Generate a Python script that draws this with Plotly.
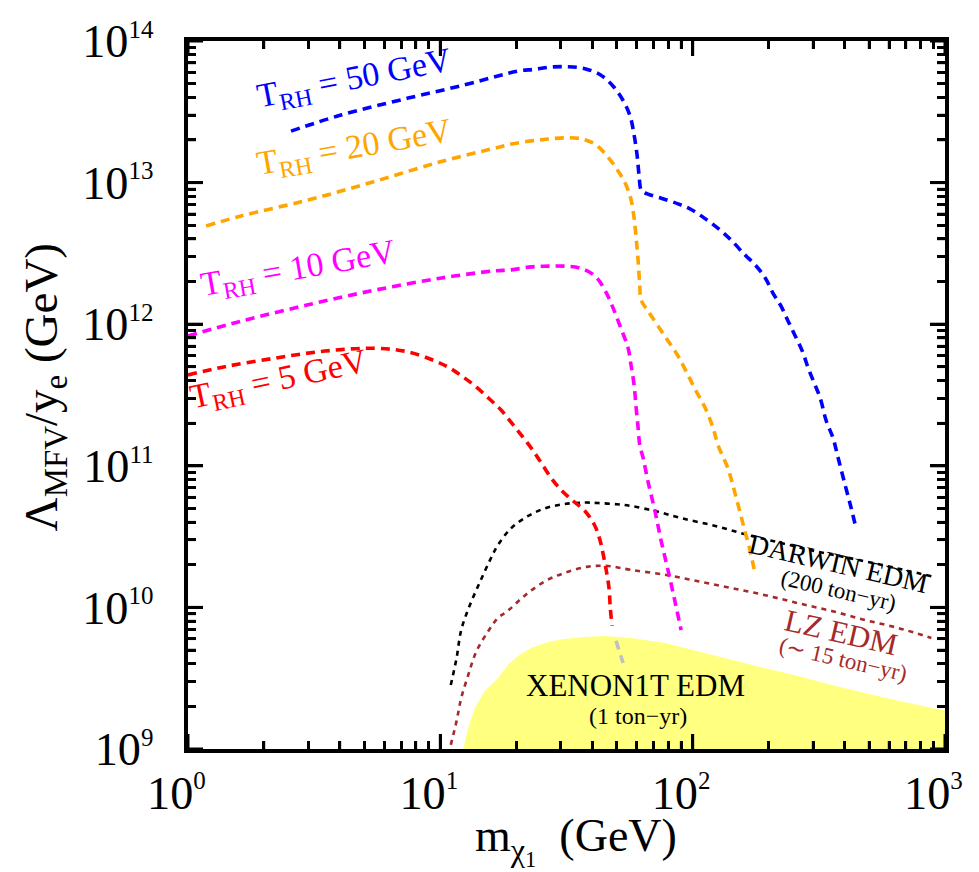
import plotly.graph_objects as go

# ---------------- data ----------------
blue_x = [2.56, 4.04, 7.45, 12.5, 16.9, 20.3, 23.7, 27.5, 32, 37.4, 43, 48.4, 53, 56.5, 58.6, 60.2, 61.3,
          62.5, 64.7, 75, 87.5, 98.6, 113, 128.5, 142, 161, 177, 194, 208, 224, 239, 255, 272, 287,
          303, 320, 338, 360, 377, 402, 425, 444]
blue_y = [2.31e13, 3.0e13, 3.95e13, 4.9e13, 5.66e13, 6.14e13, 6.31e13, 6.55e13, 6.58e13, 6.38e13,
          5.78e13, 4.79e13, 3.8e13, 2.95e13, 2.17e13, 1.57e13, 1.13e13,
          8.87e12, 8.45e12, 7.76e12, 7.08e12, 6.46e12, 5.5e12, 4.62e12, 3.93e12, 3.09e12, 2.62e12,
          2.12e12, 1.66e12, 1.34e12, 1.05e12, 8.26e11, 6.46e11, 4.9e11, 3.85e11, 3.02e11, 2.09e11,
          1.57e11, 1.14e11, 7.31e10, 5.01e10, 3.63e10]

orange_x = [1.18, 1.62, 2.99, 5.5, 10.1, 16.4, 19.1, 22.9, 26.7, 31, 36.1, 41, 45.4, 49.7, 54, 57,
            58.6, 59.7, 60.8, 61.7, 62.5, 66.5, 72.9, 80, 87.5, 94, 103, 112, 120.5, 126, 138, 149,
            161, 169, 177]
orange_y = [4.93e12, 5.81e12, 7.53e12, 1.02e13, 1.41e13, 1.75e13, 1.87e13, 1.97e13, 2.03e13, 2.07e13,
            2.04e13, 1.87e13, 1.57e13, 1.27e13, 9.93e12, 7.53e12, 5.62e12, 4.07e12, 2.79e12, 1.89e12,
            1.48e12, 1.24e12, 9.7e11, 7.59e11, 5.96e11, 4.68e11, 3.39e11, 2.57e11, 1.85e11, 1.4e11,
            9.55e10, 5.89e10, 3.47e10, 2.51e10, 1.7e10]

magenta_x = [1.0, 1.62, 2.99, 5.5, 10.1, 16.4, 19.1, 22.9, 26.7, 31, 35.8, 41, 44.9, 48.4, 52, 55.5,
             57, 58.6, 59.7, 60.8, 61.7, 63.6, 66.5, 70.9, 75, 80, 85, 90]
magenta_y = [8.26e11, 1.05e12, 1.37e12, 1.74e12, 2.12e12, 2.38e12, 2.42e12, 2.54e12, 2.57e12, 2.57e12,
             2.49e12, 2.19e12, 1.74e12, 1.3e12, 9.33e11, 6.76e11, 5.13e11, 3.72e11, 2.57e11, 1.85e11,
             1.4e11, 1.14e11, 7.76e10, 4.79e10, 2.95e10, 1.81e10, 1.11e10, 6.92e9]

red_x = [1.0, 1.4, 2.2, 3.49, 5.5, 7.45, 9.53, 10.9, 12.3, 13.9, 15.7, 17.4, 19.2, 21.1, 23.1, 25.1,
         27.5, 30.1, 33.6, 37.4, 41, 43, 44.5, 45.8, 46.7, 47.1, 47.9]
red_y = [4.38e11, 5.01e11, 5.75e11, 6.46e11, 6.76e11, 6.38e11, 5.5e11, 4.9e11, 4.24e11, 3.6e11,
         2.95e11, 2.48e11, 2.0e11, 1.62e11, 1.31e11, 1.05e11, 8.2e10, 6.75e10, 5.64e10, 4.8e10,
         3.76e10, 2.95e10, 2.23e10, 1.69e10, 1.33e10, 1.02e10, 7.4e9]

gray_x = [49.7, 53]
gray_y = [5.8e9, 4.05e9]

darwin_x = [11.0, 11.6, 12.1, 13.1, 14.4, 15.7, 16.9, 19.1, 22.3, 26, 31, 37.4, 42, 50, 57, 70.9, 90,
            123, 166, 224, 305, 413, 558, 714, 883]
darwin_y = [2.83e9, 4.4e9, 6.92e9, 1.04e10, 1.53e10, 2.14e10, 2.75e10, 3.63e10, 4.43e10, 5.01e10,
            5.37e10, 5.5e10, 5.46e10, 5.35e10, 5.2e10, 4.79e10, 4.27e10, 3.76e10, 3.24e10, 2.85e10,
            2.5e10, 2.24e10, 2.0e10, 1.81e10, 1.66e10]

lz_x = [11.0, 11.6, 12.1, 12.9, 13.9, 15.5, 16.9, 18.5, 21.7, 26, 31, 38.5, 46.2, 57, 77.6, 105, 142,
        194, 262, 355, 482, 652, 883]
lz_y = [1.07e9, 1.58e9, 2.29e9, 3.33e9, 4.9e9, 6.81e9, 8.41e9, 9.44e9, 1.22e10, 1.53e10, 1.75e10,
        1.94e10, 1.96e10, 1.84e10, 1.7e10, 1.53e10, 1.37e10, 1.22e10, 1.07e10, 9.44e9, 8.15e9,
        7.16e9, 6.08e9]

xenon_x = [12.3, 12.9, 13.7, 15, 16.9, 18.5, 20.3, 22.9, 26.7, 31, 37.4, 44.9, 57, 77.6, 105, 142,
           194, 262, 355, 482, 652, 1000]
xenon_y = [1.0e9, 1.41e9, 1.95e9, 2.57e9, 3.16e9, 3.92e9, 4.54e9, 5.16e9, 5.7e9, 5.98e9, 6.18e9,
           6.28e9, 6.08e9, 5.61e9, 4.9e9, 4.27e9, 3.72e9, 3.28e9, 2.83e9, 2.49e9, 2.19e9, 1.86e9]
xenon_floor = 1.0e8

x_decades = [0, 1, 2, 3]
y_decades = [9, 10, 11, 12, 13, 14]

# label texts and placement (log10 data coordinates)
labels = [
    ("T<sub>RH</sub> = 50 GeV", 0.658, 13.725, -11, "#0000ff", 34),
    ("T<sub>RH</sub> = 20 GeV", 0.658, 13.238, -10, "#ffa500", 34),
    ("T<sub>RH</sub> = 10 GeV", 0.436, 12.38, -10, "#ff00ff", 34),
    ("T<sub>RH</sub> = 5 GeV", 0.360, 11.597, -12, "#ff0000", 34),
    ("DARWIN EDM", 2.578, 10.31, 13, "#000000", 28),
    ("(200 ton\u2212yr)", 2.578, 10.12, 13, "#000000", 23),
    ("LZ EDM", 2.590, 9.825, 13, "#a52a2a", 31),
    ("(\u223c 15 ton\u2212yr)", 2.595, 9.635, 13, "#a52a2a", 23),
    ("XENON1T EDM", 1.772, 9.452, 0, "#000000", 31),
    ("(1 ton\u2212yr)", 1.784, 9.234, 0, "#000000", 24),
]

FONT = "Liberation Serif, Times New Roman, serif"
NBSP = "\u00a0"
MAJOR_LEN, MINOR_LEN = 15, 8
MAJOR_W, MINOR_W = 3, 2.5


def sup_label(k, pad=""):
    return "10<sup><span style=\"font-size:25px\">%d</span></sup>%s" % (k, pad)


def plotly_power_text(k):
    # text that plotly produces for 10^k with exponentformat="power"
    if k == 0:
        return "1"
    if k == 1:
        return "10"
    return "10<sup>%d</sup>" % k


def tick_values(decades):
    major = [10.0 ** k for k in decades]
    minor = [d * 10.0 ** k for k in decades[:-1] for d in range(2, 10)]
    return major, minor


fig = go.Figure()

# XENON1T excluded region
fig.add_trace(go.Scatter(
    x=xenon_x + [xenon_x[-1], xenon_x[0]],
    y=xenon_y + [xenon_floor, xenon_floor],
    mode="lines", fill="toself", fillcolor="#ffff80",
    line=dict(color="#ffff80", width=0), hoverinfo="skip", showlegend=False))

thick = dict(width=3.6, dash="9px,6px")
thin = dict(width=2.6, dash="5px,5px")

fig.add_trace(go.Scatter(x=darwin_x, y=darwin_y, mode="lines", line=dict(color="#000000", **thin),
                         line_shape="spline", showlegend=False))
fig.add_trace(go.Scatter(x=lz_x, y=lz_y, mode="lines", line=dict(color="#a52a2a", **thin),
                         line_shape="spline", showlegend=False))
fig.add_trace(go.Scatter(x=gray_x, y=gray_y, mode="lines", line=dict(color="#c0c0c0", **thick),
                         showlegend=False))
for xs, ys, col in [(red_x, red_y, "#ff0000"), (magenta_x, magenta_y, "#ff00ff"),
                    (orange_x, orange_y, "#ffa500"), (blue_x, blue_y, "#0000ff")]:
    fig.add_trace(go.Scatter(x=xs, y=ys, mode="lines", line=dict(color=col, **thick),
                             line_shape="spline", showlegend=False))

for text, lx, ly, ang, col, size in labels:
    fig.add_annotation(x=lx, y=ly, xref="x", yref="y", text=text, showarrow=False,
                       textangle=ang, font=dict(family=FONT, size=size, color=col))

# inward tick marks on all four sides (pixel-sized shapes at the axis tick values)
x_major, x_minor = tick_values(x_decades)
y_major, y_minor = tick_values(y_decades)
tick_shapes = []
for vals, ln, w in [(x_major, MAJOR_LEN, MAJOR_W), (x_minor, MINOR_LEN, MINOR_W)]:
    for v in vals:
        for anchor, sgn in [(0, 1), (1, -1)]:
            tick_shapes.append(dict(type="line", xref="x", yref="paper", x0=v, x1=v,
                                    ysizemode="pixel", yanchor=anchor, y0=0, y1=sgn * ln,
                                    line=dict(color="black", width=w), layer="above"))
for vals, ln, w in [(y_major, MAJOR_LEN, MAJOR_W), (y_minor, MINOR_LEN, MINOR_W)]:
    for v in vals:
        for anchor, sgn in [(0, 1), (1, -1)]:
            tick_shapes.append(dict(type="line", yref="y", xref="paper", y0=v, y1=v,
                                    xsizemode="pixel", xanchor=anchor, x0=0, x1=sgn * ln,
                                    line=dict(color="black", width=w), layer="above"))

axis_common = dict(
    type="log", showline=True, linewidth=4, linecolor="black", mirror="allticks",
    tickmode="linear", tick0=0, dtick=1, exponentformat="power",
    ticks="inside", ticklen=MAJOR_LEN, tickwidth=MAJOR_W, tickcolor="black",
    minor=dict(dtick="D1", ticks="inside", ticklen=MINOR_LEN, tickwidth=MINOR_W,
               tickcolor="black", showgrid=False),
    showgrid=False, zeroline=False, automargin=False,
    tickfont=dict(family=FONT, size=37, color="black"),
)

fig.update_layout(
    width=979, height=872,
    margin=dict(l=180, r=42, t=33, b=131),
    paper_bgcolor="white", plot_bgcolor="white",
    shapes=tick_shapes,
    xaxis=dict(range=[0, 3],
               labelalias={plotly_power_text(k): sup_label(k, NBSP * 2) for k in x_decades},
               ticklabelstandoff=2, **axis_common),
    yaxis=dict(range=[9, 14],
               labelalias={plotly_power_text(k): sup_label(k, NBSP * 2) for k in y_decades},
               **axis_common),
    showlegend=False,
)

fig.add_annotation(x=0.512, y=-0.13, xref="paper", yref="paper", yanchor="middle",
                   text="m<sub>\u03c7<sub>1</sub></sub>  (GeV)", showarrow=False,
                   font=dict(family=FONT, size=46, color="black"))
fig.add_annotation(x=-0.19, y=0.511, xref="paper", yref="paper", xanchor="center",
                   text="\u039b<sub>MFV</sub>/y<sub>e</sub> (GeV)", showarrow=False, textangle=-90,
                   font=dict(family=FONT, size=47, color="black"))

fig.write_html("out.html")
